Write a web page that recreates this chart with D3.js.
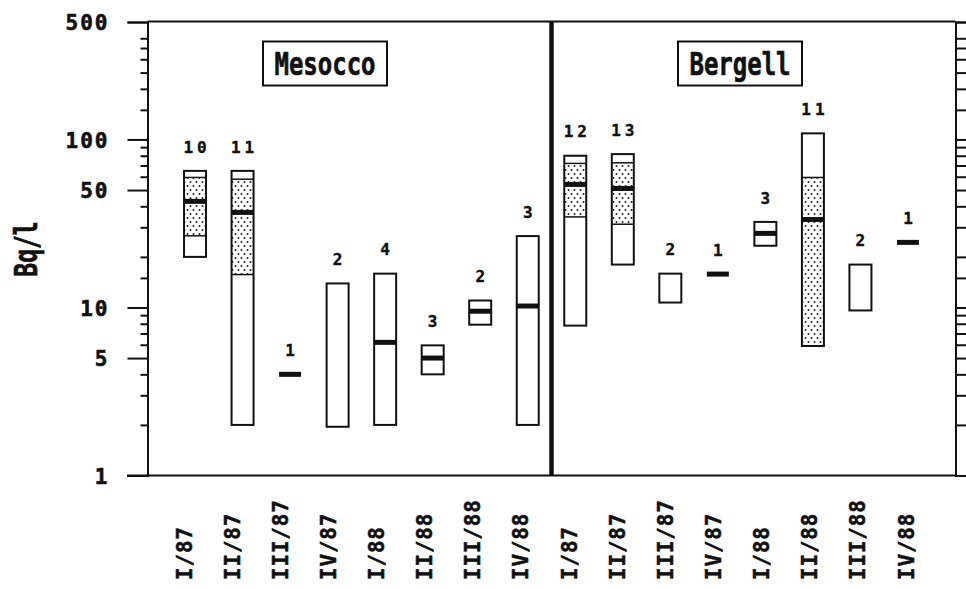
<!DOCTYPE html>
<html><head><meta charset="utf-8">
<script src="https://cdn.jsdelivr.net/npm/d3@7"></script>
<style>
html,body{margin:0;padding:0;background:#fff;}
svg{display:block;}
text{font-family:"DejaVu Sans Mono",monospace;font-weight:bold;fill:#111;}
</style></head>
<body>
<svg id="chart" width="966" height="589"></svg>
<script>
// ---- data ----
const quarters = ["I/87","II/87","III/87","IV/87","I/88","II/88","III/88","IV/88"];
const regions = ["Mesocco","Bergell"];
const yTickValues = [1,5,10,50,100,500];
const yTickLabels = ["1","5","10","50","100","500"];
const yMinorTicks = [2,3,4,6,7,8,9,15,20,30,40,60,70,80,90,150,200,250,300,350,400];
const yTitle = "Bq/l";

const mesoccoN    = [10, 11, 1, 2, 4, 3, 2, 3];
const mesoccoMin  = [20, 2.0, 4.0, 1.95, 2.0, 4.0, 7.9, 2.0];
const mesoccoLow  = [26.7, 15.7, null, null, null, null, null, null];
const mesoccoMed  = [42.8, 36.8, 4.0, null, 6.2, 5.0, 9.5, 10.2];
const mesoccoHigh = [59.4, 58, null, null, null, null, null, null];
const mesoccoMax  = [65, 65, 4.0, 13.9, 15.9, 5.95, 11.0, 26.6];

const bergellN    = [12, 13, 2, 1, 3, 11, 2, 1];
const bergellMin  = [7.8, 18.0, 10.7, 15.8, 23.3, 5.9, 9.6, 24.4];
const bergellLow  = [34.6, 31.3, null, null, null, 5.9, null, null];
const bergellMed  = [54, 51.1, null, 15.8, 27.6, 33.4, null, 24.4];
const bergellHigh = [72, 72.6, null, null, null, 59.4, null, null];
const bergellMax  = [80, 81.8, 15.9, 15.8, 32.3, 108.7, 18.0, 24.4];

// ---- build table ----
const series = {
  Mesocco: {n: mesoccoN, min: mesoccoMin, low: mesoccoLow, med: mesoccoMed, high: mesoccoHigh, max: mesoccoMax},
  Bergell: {n: bergellN, min: bergellMin, low: bergellLow, med: bergellMed, high: bergellHigh, max: bergellMax}
};
const rows = [];
regions.forEach(r => quarters.forEach((q, i) => {
  const s = series[r];
  rows.push({key: r + "|" + q, region: r, quarter: q, n: s.n[i], min: s.min[i], low: s.low[i],
             med: s.med[i], high: s.high[i], max: s.max[i]});
}));

// ---- layout ----
const L = 147.5, R = 955.5, T = 21.5, B = 475.5;
const svg = d3.select("#chart");
const x = d3.scalePoint().domain(rows.map(d => d.key)).range([L, R]).padding(1);
const xl = d3.scalePoint().domain(rows.map(d => d.key)).range([184, 906]);
const y = d3.scaleLog().domain([1, 500]).range([B, 22]);
const bw = 22;

const defs = svg.append("defs");
const pat = defs.append("pattern").attr("id", "dots").attr("patternUnits", "userSpaceOnUse")
  .attr("width", 6).attr("height", 8);
pat.append("rect").attr("width", 6).attr("height", 8).attr("fill", "#fff");
pat.append("circle").attr("cx", 1.5).attr("cy", 2).attr("r", 1.0).attr("fill", "#222");
pat.append("circle").attr("cx", 4.5).attr("cy", 6).attr("r", 1.0).attr("fill", "#222");

// frame
svg.append("line").attr("x1", L).attr("x2", R).attr("y1", T).attr("y2", T).attr("stroke", "#111").attr("stroke-width", 2);
svg.append("line").attr("x1", 127).attr("x2", R).attr("y1", B).attr("y2", B).attr("stroke", "#111").attr("stroke-width", 2);

// left axis
const leftAxis = d3.axisLeft(y).tickValues(yTickValues).tickFormat((d, i) => yTickLabels[i]).tickSize(20).tickPadding(20);
const gL = svg.append("g").attr("transform", `translate(${L},0)`).call(leftAxis);
gL.select(".domain").attr("stroke", "#111").attr("stroke-width", 2);
gL.selectAll(".tick line").attr("stroke", "#111").attr("stroke-width", 2);
gL.selectAll(".tick text").attr("font-size", 21).attr("letter-spacing", 2).attr("fill", "#111")
  .attr("font-family", "DejaVu Sans Mono").attr("font-weight", "bold").attr("x", -38).attr("dy", "0.36em")
  .attr("stroke", "#111").attr("stroke-width", 0.6);
const gLm = svg.append("g").attr("transform", `translate(${L},0)`)
  .call(d3.axisLeft(y).tickValues(yMinorTicks).tickFormat("").tickSize(7));
gLm.select(".domain").remove();
gLm.selectAll(".tick line").attr("stroke", "#111").attr("stroke-width", 2);

// right axis
const gR = svg.append("g").attr("transform", `translate(${R},0)`)
  .call(d3.axisRight(y).tickValues(yTickValues.concat(yMinorTicks)).tickFormat("").tickSize(11));
gR.select(".domain").attr("stroke", "#111").attr("stroke-width", 2);
gR.selectAll(".tick line").attr("stroke", "#111").attr("stroke-width", 2);

// divider between regions
const divX = (x(rows[7].key) + x(rows[8].key)) / 2;
svg.append("line").attr("x1", divX).attr("x2", divX).attr("y1", T).attr("y2", B)
  .attr("stroke", "#111").attr("stroke-width", 4.5);

// y title
svg.append("text").text(yTitle).attr("font-size", 23)
  .attr("transform", "translate(25,249) rotate(-90) scale(1,1.4)")
  .attr("text-anchor", "middle").attr("dy", "0.36em")
  .attr("stroke", "#111").attr("stroke-width", 0.5);

// region labels
const regionCenter = {Mesocco: 325, Bergell: 740};
regions.forEach(r => {
  const g = svg.append("g").attr("transform", `translate(${regionCenter[r]},63.5)`);
  g.append("rect").attr("x", -62).attr("y", -22).attr("width", 124).attr("height", 44)
    .attr("fill", "#fff").attr("stroke", "#111").attr("stroke-width", 2);
  g.append("text").text(r).attr("font-size", 24).attr("text-anchor", "middle")
    .attr("transform", "scale(1,1.35)").attr("dy", "0.36em")
    .attr("stroke", "#111").attr("stroke-width", 0.5);
});

// boxes
const boxes = svg.append("g");
rows.forEach(d => {
  const cx = x(d.key);
  const g = boxes.append("g");
  if (d.n === 1) {
    g.append("rect").attr("x", cx - bw / 2).attr("y", y(d.med) - 2.5).attr("width", bw).attr("height", 5).attr("fill", "#111");
  } else {
    g.append("rect").attr("x", cx - bw / 2).attr("y", y(d.max)).attr("width", bw).attr("height", y(d.min) - y(d.max))
      .attr("fill", "#fff");
    if (d.low != null) {
      g.append("rect").attr("x", cx - bw / 2).attr("y", y(d.high)).attr("width", bw).attr("height", y(d.low) - y(d.high))
        .attr("fill", "url(#dots)");
      g.append("line").attr("x1", cx - bw / 2).attr("x2", cx + bw / 2).attr("y1", y(d.high)).attr("y2", y(d.high))
        .attr("stroke", "#111").attr("stroke-width", 1.5);
      g.append("line").attr("x1", cx - bw / 2).attr("x2", cx + bw / 2).attr("y1", y(d.low)).attr("y2", y(d.low))
        .attr("stroke", "#111").attr("stroke-width", 1.5);
    }
    g.append("rect").attr("x", cx - bw / 2).attr("y", y(d.max)).attr("width", bw).attr("height", y(d.min) - y(d.max))
      .attr("fill", "none").attr("stroke", "#111").attr("stroke-width", 2);
    if (d.med != null) {
      g.append("line").attr("x1", cx - bw / 2).attr("x2", cx + bw / 2).attr("y1", y(d.med)).attr("y2", y(d.med))
        .attr("stroke", "#111").attr("stroke-width", 5);
    }
  }
  g.append("text").text(d.n).attr("x", cx + 2).attr("y", y(d.max) - 24).attr("dy", "0.36em")
    .attr("text-anchor", "middle").attr("font-size", 16).attr("letter-spacing", 4)
    .attr("stroke", "#111").attr("stroke-width", 0.4);
});

// category labels
svg.append("g").selectAll("text").data(rows).join("text")
  .text(d => d.quarter)
  .attr("transform", d => `translate(${xl(d.key)},580) rotate(-90)`)
  .attr("text-anchor", "start").attr("dy", "0.36em")
  .attr("font-size", 21).attr("letter-spacing", 0.8)
  .attr("stroke", "#111").attr("stroke-width", 0.5);
</script>
</body></html>
